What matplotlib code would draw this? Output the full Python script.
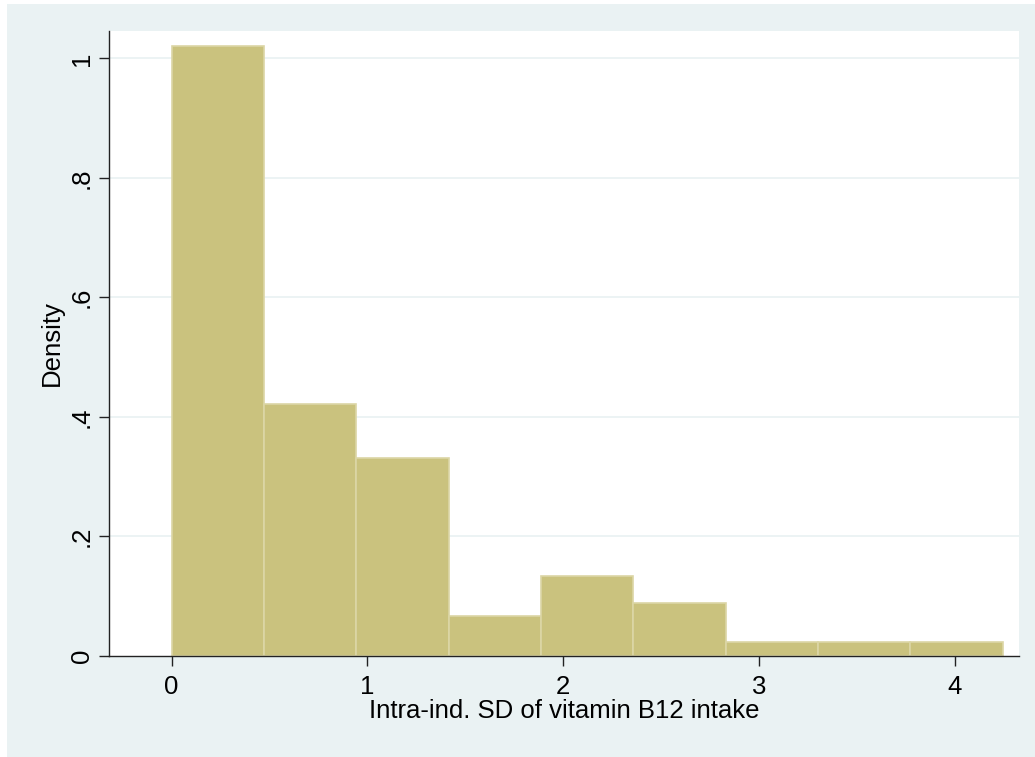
import numpy as np
import matplotlib
matplotlib.use("Agg")
import matplotlib.pyplot as plt
from matplotlib.patches import Rectangle

plt.rcParams['font.family'] = ['Liberation Sans', 'DejaVu Sans']

# histogram of intra-individual SD (density scale)
bin_start = 0.0
bin_width = 0.4717
densities = [1.021, 0.4216, 0.331, 0.067, 0.134, 0.089, 0.023, 0.023, 0.023]
x_ticks = [0, 1, 2, 3, 4]
y_ticks = [0, 0.2, 0.4, 0.6, 0.8, 1.0]
y_ticklabels = ["0", ".2", ".4", ".6", ".8", "1"]

bg = "#eaf2f3"
fill = "#cac27e"
edge = "#dcd6a6"

W, H = 1035, 757
fig = plt.figure(figsize=(W / 100, H / 100), dpi=100, facecolor="white")
# outer graph region, kept behind the axes
fig.patches.append(Rectangle((7 / W, 0), 1 - 7 / W, 1 - 4 / H,
                             transform=fig.transFigure, facecolor=bg,
                             edgecolor="none", zorder=-10))

ax = fig.add_axes([109 / W, 101 / H, 910 / W, 625 / H])
ax.set_zorder(1)
ax.set_facecolor("white")

lefts = bin_start + bin_width * np.arange(len(densities))
ax.bar(lefts, densities, width=bin_width, align="edge",
       color=fill, edgecolor=edge, linewidth=1.2, zorder=2)

ax.set_xlim(-0.320, 4.328)
ax.set_ylim(0, 1.0457)

ax.set_yticks(y_ticks)
ax.set_yticklabels(y_ticklabels, rotation=90, va="center")
ax.set_xticks(x_ticks)
ax.set_xticklabels([str(t) for t in x_ticks])

for y in y_ticks[1:]:
    ax.axhline(y, color=bg, linewidth=1.3, zorder=1)

for s in ["top", "right"]:
    ax.spines[s].set_visible(False)
for s in ["left", "bottom"]:
    ax.spines[s].set_color("#222222")
    ax.spines[s].set_linewidth(1.0)
    ax.spines[s].set_zorder(3)

ax.tick_params(axis="both", direction="out", length=7, width=1.0,
               color="#222222", labelsize=18.5)
ax.tick_params(axis="x", pad=7)
ax.tick_params(axis="y", pad=4)

ax.set_xlabel("Intra-ind. SD of vitamin B12 intake", fontsize=18.5, labelpad=0)
ax.set_ylabel("Density", fontsize=18.5, labelpad=4)

fig.savefig("out.png", dpi=100, facecolor=fig.get_facecolor())
